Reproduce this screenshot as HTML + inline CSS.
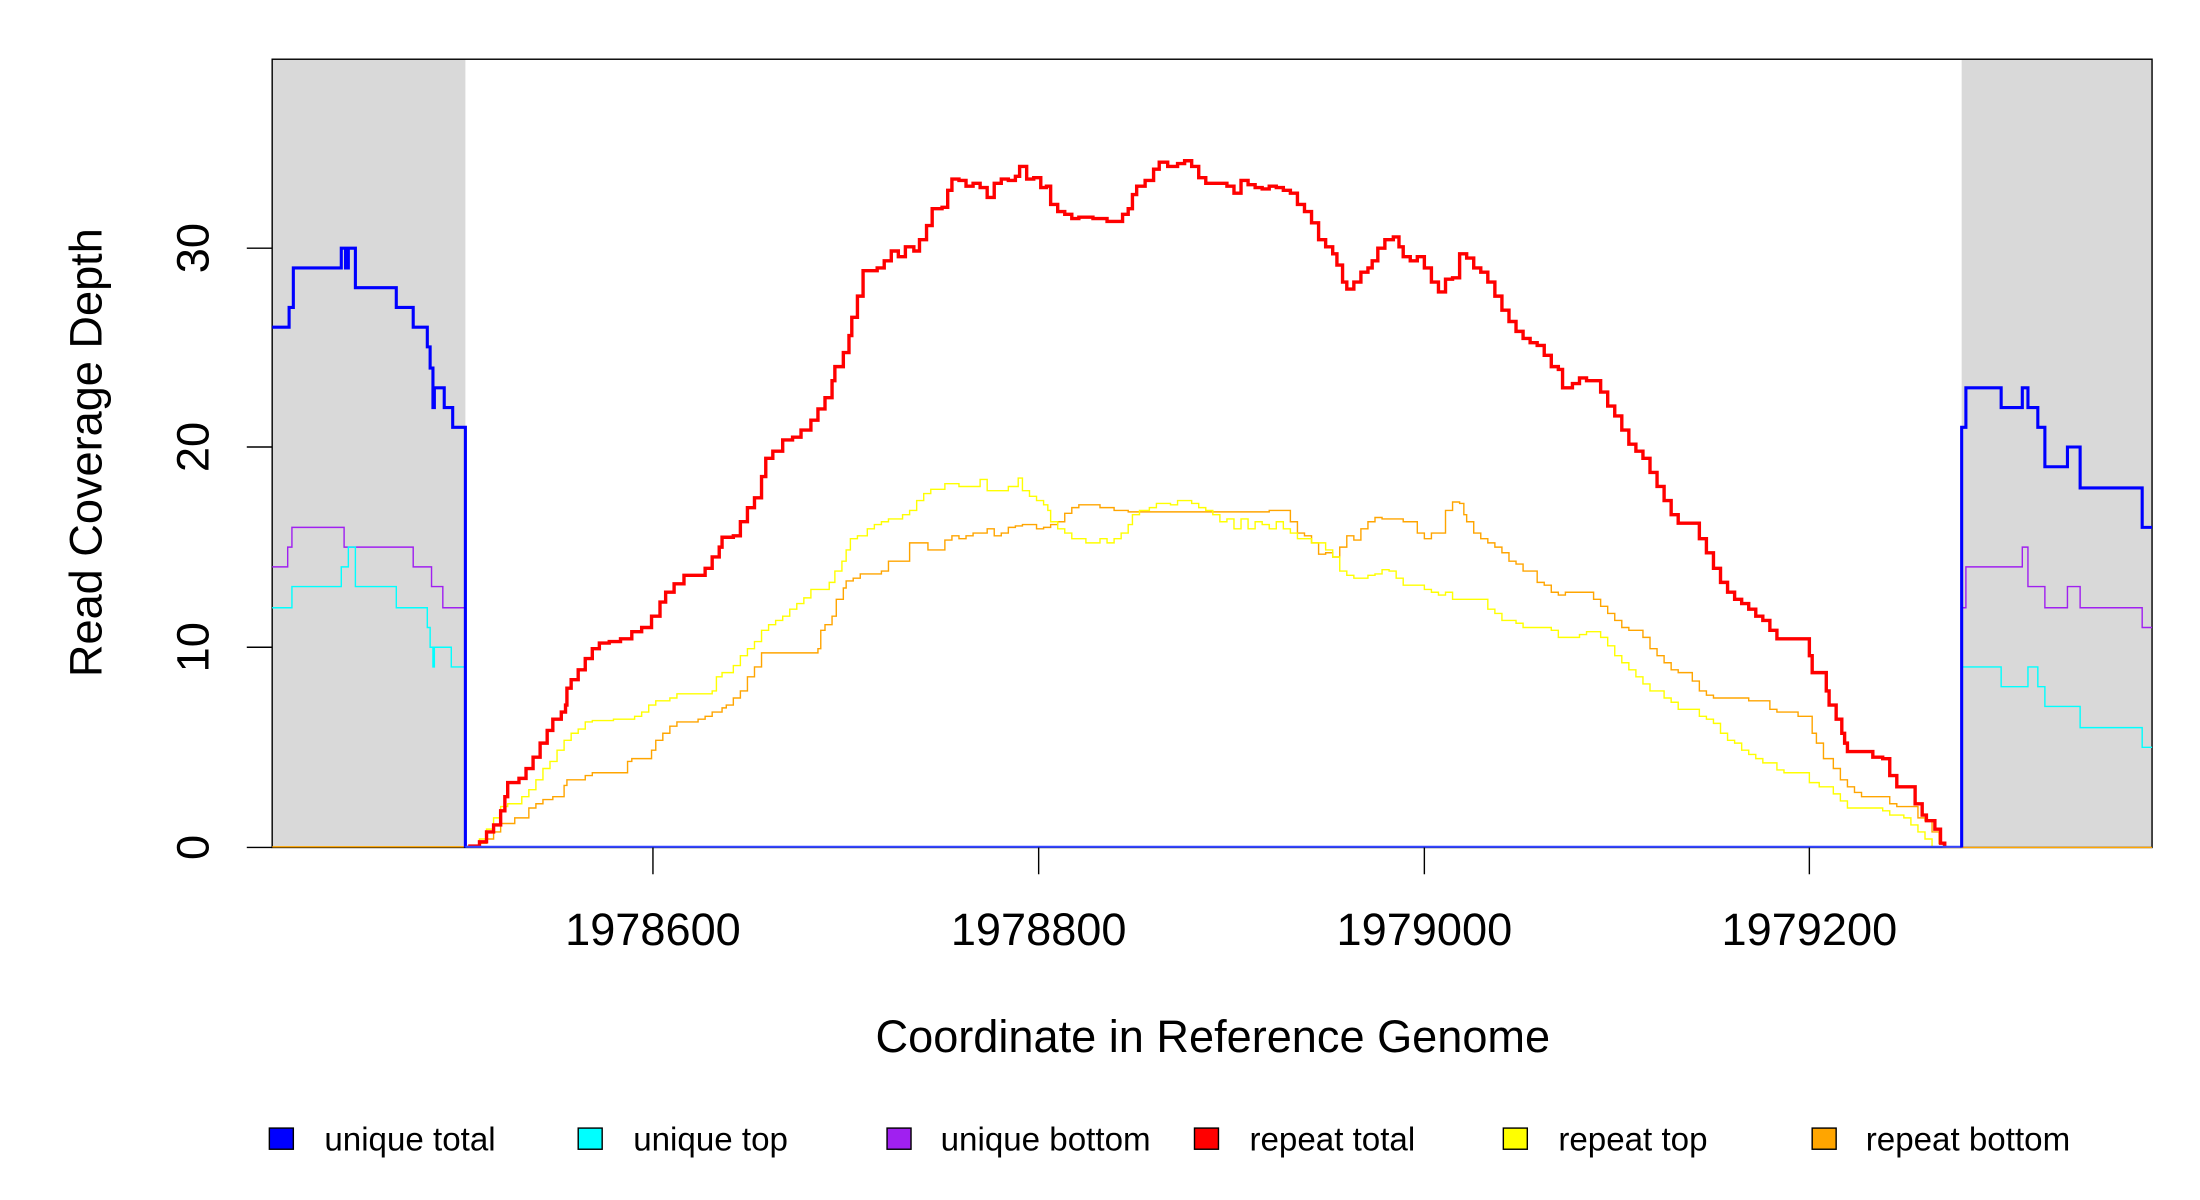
<!DOCTYPE html>
<html><head><meta charset="utf-8"><style>html,body{margin:0;padding:0;background:#fff}svg{display:block}</style></head>
<body>
<svg width="2200" height="1200" viewBox="0 0 1560 851" preserveAspectRatio="none" xmlns="http://www.w3.org/2000/svg" font-family="Liberation Sans, sans-serif">
<rect x="193" y="42" width="137" height="559" fill="#d9d9d9"/>
<rect x="1391" y="42" width="135" height="559" fill="#d9d9d9"/>
<rect x="193" y="42" width="1333" height="559" fill="none" stroke="#000" stroke-width="1"/>
<g fill="none" stroke-linejoin="miter">
<path stroke="#ffa500" stroke-width="1" d="M193 600.5H332V600H340V598H345V595H350V590H355V584H365V580H375V573H380V570H385V567H392V565H400V557H402V553H415V550H420V548H445V540H448V538H462V532H465V525H470V520H475V515H480V512H495V510H500V508H505V505H512V502H515V500H520V495H525V490H530V480H535V473H540V463H580V460H582V447H585V443H590V437H593V425H598V417H600V412H605V410H610V407H625V405H630V398H645V385H658V390H670V383H675V380H680V382H685V380H690V378H700V375H705V380H710V378H715V374H720V373H725V372H730V372H735V375H740V374H745V372H750V370H755V364H760V360H765V358H770V358H780V360H790V362H800V363H810V363H900V362H915V370H920V378H925V380H930V385H935V393H940V392H945V395H950V388H955V380H960V383H965V375H970V370H975V367H980V368H995V370H1005V378H1010V382H1015V378H1025V362H1030V356H1035V357H1038V365H1040V370H1045V378H1050V382H1055V385H1060V388H1065V392H1070V398H1075V400H1080V405H1090V413H1095V415H1100V420H1105V422H1110V420H1130V425H1135V430H1140V435H1145V440H1150V445H1155V447H1165V452H1170V460H1175V465H1180V470H1185V475H1190V477H1200V483H1205V490H1210V493H1215V495H1240V497H1255V503H1260V505H1275V508H1285V520H1288V527H1293V538H1300V545H1305V553H1310V558H1315V562H1320V565H1340V570H1345V572H1360V580H1365V582H1370V590H1375V598H1378V601H1526"/>
<path stroke="#ffff00" stroke-width="1" d="M332 600H340V595H345V588H350V580H355V572H360V570H370V565H375V560H380V553H385V545H390V540H395V532H400V525H405V520H410V517H415V512H420V511H435V510H450V508H455V505H460V500H465V497H475V495H480V492H505V490H508V480H512V477H520V472H525V465H530V460H535V455H540V447H545V443H550V440H555V437H560V432H565V428H570V424H575V418H588V413H592V405H597V398H600V390H603V382H608V380H615V375H620V372H625V370H630V368H640V365H645V362H650V355H655V350H660V347H670V343H680V345H695V340H700V348H715V345H722V339H725V348H730V352H735V355H740V358H743V362H745V370H750V375H755V378H760V382H770V385H780V382H785V385H790V382H795V378H800V372H803V365H808V362H815V360H820V357H830V358H835V355H845V357H850V360H855V362H860V365H865V370H870V368H875V375H880V368H885V375H890V370H895V372H900V375H905V370H910V375H915V378H920V382H930V385H940V390H945V395H950V405H955V408H960V410H970V408H975V407H980V404H985V405H990V410H995V415H1010V418H1015V420H1020V422H1025V420H1030V425H1055V432H1060V435H1065V440H1075V442H1080V445H1100V447H1105V452H1120V450H1125V448H1135V452H1140V458H1145V465H1150V470H1155V475H1160V480H1165V485H1170V490H1180V495H1185V498H1190V503H1205V508H1210V510H1215V513H1220V520H1225V525H1230V527H1235V532H1240V535H1245V538H1250V541H1260V546H1265V548H1283V555H1290V558H1300V563H1305V568H1310V573H1335V575H1340V578H1350V580H1355V585H1360V590H1365V595H1370V600"/>
<path stroke="#ff0000" stroke-width="2.4" d="M332 600H340V597H345V590H350V585H355V575H358V565H360V555H368V552H373V545H378V537H383V527H388V518H392V510H398V505H401V500H402V488H405V482H410V475H415V467H420V460H425V456H432V455H440V453H448V448H455V445H462V437H468V427H472V420H478V414H485V408H500V403H505V395H510V388H512V381H520V380H525V370H530V360H535V353H540V338H543V325H548V320H555V312H562V310H568V305H575V298H580V290H585V282H590V270H592V260H598V250H602V238H604V225H608V210H612V192H622V190H627V185H632V178H637V182H642V175H648V178H652V170H657V160H661V148H668V147H672V135H675V127H680V128H685V132H690V130H695V133H700V140H705V130H710V127H715V128H720V125H723V118H728V127H733V126H738V133H742V132H745V145H750V150H755V152H760V155H765V154H775V155H785V157H796V152H800V148H803V138H806V132H812V128H818V120H822V115H828V118H835V116H840V114H845V118H850V126H855V130H865V130H870V132H875V137H880V128H885V131H890V133H895V134H900V132H905V133H910V135H915V137H920V145H925V150H930V158H935V170H940V175H945V180H948V188H952V200H955V205H960V200H965V193H970V190H973V185H977V176H982V170H988V168H992V175H995V182H1000V185H1005V182H1010V190H1015V200H1020V207H1025V198H1030V197H1035V180H1040V183H1045V190H1050V193H1055V200H1060V210H1065V220H1070V228H1075V235H1080V240H1085V243H1090V245H1095V252H1100V260H1105V262H1108V275H1115V272H1120V268H1125V270H1135V278H1140V288H1145V295H1150V305H1155V315H1160V320H1165V325H1170V335H1175V345H1180V355H1185V365H1190V371H1205V382H1210V392H1215V403H1220V413H1225V420H1230V425H1235V428H1240V432H1245V437H1250V440H1255V447H1260V453H1283V465H1285V477H1295V490H1297V500H1302V510H1306V520H1308V527H1310V533H1328V537H1335V538H1340V550H1345V558H1358V570H1363V578H1366V582H1372V588H1376V598H1379V600H1380"/>
<path stroke="#a020f0" stroke-width="1" d="M193 402H204V388H207V374H244V388H293V402H306V416H314V431H330V601"/>
<path stroke="#a020f0" stroke-width="1" d="M1391 601V431H1394V402H1434V388H1438V416H1450V431H1466V416H1475V431H1519V445H1526"/>
<path stroke="#00ffff" stroke-width="1" d="M193 431H207V416H242V402H247V388H252V416H281V431H303V445H305V459H307V473H308V459H320V473H330"/>
<path stroke="#00ffff" stroke-width="1" d="M1391 473H1419V487H1438V473H1445V487H1450V501H1475V516H1519V530H1526"/>
<path stroke="#0000ff" stroke-width="2.2" d="M193 232H205V218H208V190H242V176H245V190H247V176H252V204H281V218H293V232H303V246H305V261H307V289H308V275H315V289H321V303H330V601"/>
<path stroke="#3344ff" stroke-width="1.5" d="M330 600.5H1391"/>
<path stroke="#0000ff" stroke-width="2.2" d="M1391 601V303H1394V275H1419V289H1434V275H1438V289H1445V303H1450V331H1466V317H1475V346H1519V374H1526"/>
</g>
<g stroke="#000" stroke-width="1">
<line x1="175" y1="601" x2="193" y2="601"/><line x1="175" y1="459" x2="193" y2="459"/><line x1="175" y1="317" x2="193" y2="317"/><line x1="175" y1="176" x2="193" y2="176"/>
<line x1="463" y1="601" x2="463" y2="620"/><line x1="736.5" y1="601" x2="736.5" y2="620"/><line x1="1010" y1="601" x2="1010" y2="620"/><line x1="1283" y1="601" x2="1283" y2="620"/>
</g>
<g font-size="32" fill="#000" text-anchor="middle">
<text transform="translate(148,601) rotate(-90)">0</text>
<text transform="translate(148,459) rotate(-90)">10</text>
<text transform="translate(148,317) rotate(-90)">20</text>
<text transform="translate(148,176) rotate(-90)">30</text>
<text x="463" y="670">1978600</text>
<text x="736.5" y="670">1978800</text>
<text x="1010" y="670">1979000</text>
<text x="1283" y="670">1979200</text>
<text x="860" y="746">Coordinate in Reference Genome</text>
<text transform="translate(72,321) rotate(-90)">Read Coverage Depth</text>
</g>
<g stroke="#000" stroke-width="1">
<rect x="191" y="800" width="17" height="15" fill="#0000ff"/>
<rect x="410" y="800" width="17" height="15" fill="#00ffff"/>
<rect x="629" y="800" width="17" height="15" fill="#a020f0"/>
<rect x="847" y="800" width="17" height="15" fill="#ff0000"/>
<rect x="1066" y="800" width="17" height="15" fill="#ffff00"/>
<rect x="1285" y="800" width="17" height="15" fill="#ffa500"/>
</g>
<g font-size="23.5" fill="#000">
<text x="230" y="816">unique total</text>
<text x="449" y="816">unique top</text>
<text x="667" y="816">unique bottom</text>
<text x="886" y="816">repeat total</text>
<text x="1105" y="816">repeat top</text>
<text x="1323" y="816">repeat bottom</text>
</g>
</svg>
</body></html>
